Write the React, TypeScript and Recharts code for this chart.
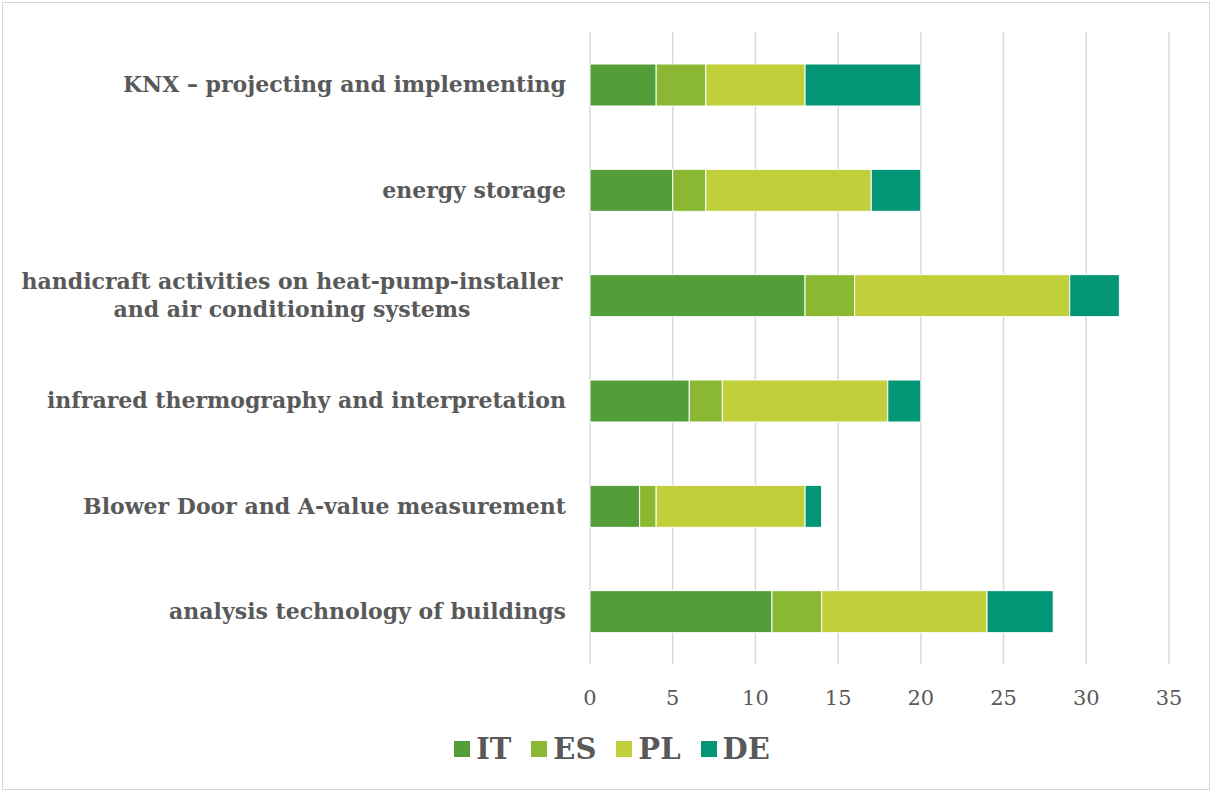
import React from 'react';
import { BarChart, Bar, XAxis, YAxis, CartesianGrid, Legend } from 'recharts';

const categories = [
  'KNX – projecting and implementing',
  'energy storage',
  'handicraft activities on heat-pump-installer\nand air conditioning systems',
  'infrared thermography and interpretation',
  'Blower Door and A-value measurement',
  'analysis technology of buildings',
];

const IT = [4, 5, 13, 6, 3, 11];
const ES = [3, 2, 3, 2, 1, 3];
const PL = [6, 10, 13, 10, 9, 10];
const DE = [7, 3, 3, 2, 1, 4];

const xTicks = [0, 5, 10, 15, 20, 25, 30, 35];

const series = [
  { key: 'IT', values: IT, color: '#549E39' },
  { key: 'ES', values: ES, color: '#8AB833' },
  { key: 'PL', values: PL, color: '#C0CF3A' },
  { key: 'DE', values: DE, color: '#029676' },
];

const data = categories.map((name, i) => {
  const row: Record<string, any> = { name };
  series.forEach((s) => (row[s.key] = s.values[i]));
  return row;
});

const FONT = '"DejaVu Serif", serif';
const TEXT = '#595959';

const CategoryTick = (props: any) => {
  const { x, y, payload } = props;
  const lines: string[] = String(payload.value).split('\n');
  if (lines.length === 1) {
    return (
      <text x={x - 22} y={y} dy="0.35em" textAnchor="end" fill={TEXT}
        fontFamily={FONT} fontSize={22} fontWeight="bold">
        {lines[0]}
      </text>
    );
  }
  // two-line label, lines centred on each other
  const cx = x - 22 - 274;
  return (
    <text textAnchor="middle" fill={TEXT} fontFamily={FONT} fontSize={22} fontWeight="bold">
      {lines.map((l, i) => (
        <tspan key={i} x={cx} y={y + (i - (lines.length - 1) / 2) * 28} dy="0.35em">{l}</tspan>
      ))}
    </text>
  );
};

const ValueTick = (props: any) => {
  const { x, y, payload } = props;
  return (
    <text x={x} y={y} dy="0.71em" textAnchor="middle" fill={TEXT} fontFamily={FONT} fontSize={21}>
      {payload.value}
    </text>
  );
};

const LegendContent = () => (
  <div style={{ height: 60, display: 'flex', justifyContent: 'center', alignItems: 'flex-start', paddingLeft: 12, boxSizing: 'border-box' }}>
    {series.map((s) => (
      <div key={s.key} style={{ display: 'flex', alignItems: 'center', margin: '0 10px' }}>
        <span style={{ width: 16, height: 16, background: s.color, display: 'inline-block', marginRight: 6 }} />
        <span style={{ fontFamily: FONT, fontWeight: 'bold', fontSize: 29, color: TEXT }}>{s.key}</span>
      </div>
    ))}
  </div>
);

export default function App() {
  return (
    <div style={{ position: 'fixed', left: 0, top: 0, width: 1212, height: 792, background: '#fff' }}>
      <div style={{ position: 'absolute', left: 2, top: 2, width: 1206, height: 786, border: '1px solid #D9D9D9' }} />
      <BarChart width={1212} height={792} data={data} layout="vertical"
        margin={{ top: 32, right: 43, bottom: 0, left: 0 }} barSize={42}>
        <CartesianGrid horizontal={false} stroke="#D9D9D9" strokeWidth={1.5} />
        <XAxis type="number" domain={[0, 35]} ticks={xTicks} axisLine={false} tickLine={false}
          tickSize={0} tickMargin={26} height={68} tick={<ValueTick />} interval={0} />
        <YAxis type="category" dataKey="name" width={590} axisLine={false} tickLine={false}
          tickSize={0} tick={<CategoryTick />} interval={0} />
        <Legend verticalAlign="bottom" content={<LegendContent />} wrapperStyle={{ left: 0, width: 1212 }} />
        {series.map((s) => (
          <Bar key={s.key} dataKey={s.key} stackId="a" fill={s.color} stroke="#fff" strokeWidth={1}
            isAnimationActive={false} />
        ))}
      </BarChart>
    </div>
  );
}
